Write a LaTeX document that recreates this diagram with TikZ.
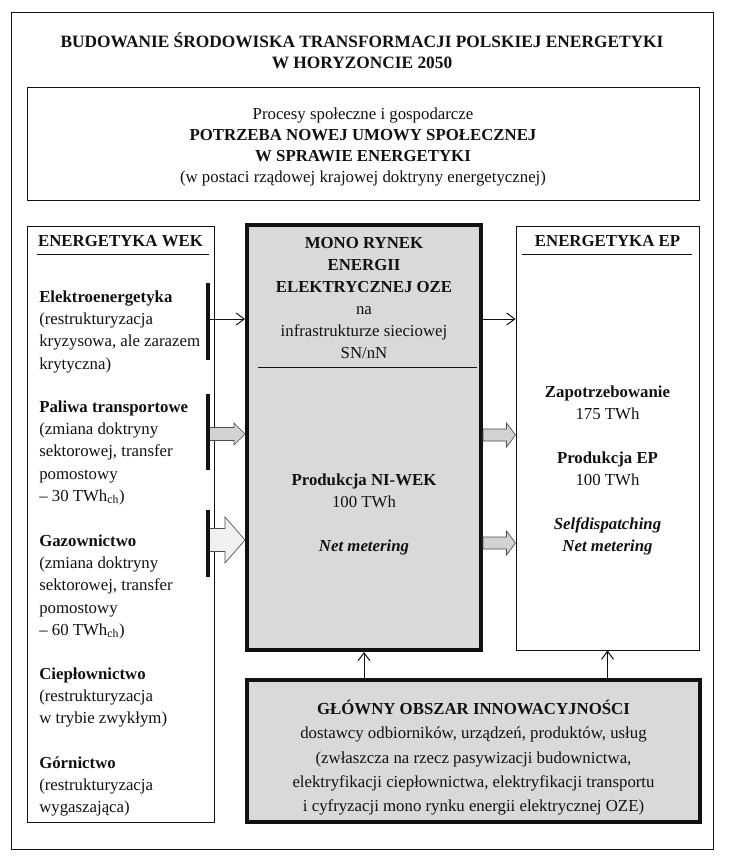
\documentclass[tikz,border=0pt]{standalone}
\usepackage{fontspec}
\setmainfont{Liberation Serif}
\usetikzlibrary{arrows.meta,positioning,calc,fit}
\definecolor{Ink}{HTML}{111111}
\definecolor{Shade}{HTML}{D9D9D9}
\definecolor{ArrowGrey}{HTML}{D2D2D2}
\definecolor{ArrowPale}{HTML}{F0F0F0}
\newcommand{\fatarrow}[6]{
  \draw[draw=Ink!75, fill=#6, line width=0.5pt]
    ($(#1)+(0,-#3)$) -- ($(#2)+(-#5,-#3)$) -- ($(#2)+(-#5,-#4)$) -- (#2)
    -- ($(#2)+(-#5,#4)$) -- ($(#2)+(-#5,#3)$) -- ($(#1)+(0,#3)$) -- cycle;
}
\tikzset{
  frame/.style={draw=Ink, line width=0.75pt, inner sep=0pt},
  heavybox/.style={draw=Ink, fill=Shade, line width=3pt, inner sep=0pt},
  txt/.style={inner sep=0pt, align=center, anchor=north, text=Ink,
    execute at begin node=\strut},
  sidetxt/.style={txt, align=left, anchor=north west},
  feed/.style={draw=Ink, line width=0.75pt, -{Straight Barb[length=6pt, width=9pt]}},
  bar/.style={draw=Ink, line width=3pt}
}

\begin{document}
\begin{tikzpicture}[x=0.75pt, y=-0.75pt]
        \fill[white] (0,0) rectangle (745,867);
        % frame and headline
        \node[frame, fit={(11,13) (713,849)}] (outer) {};
        \node[txt, font=\fontsize{13}{15.75}\selectfont\bfseries] (title) at (362,32)
          {BUDOWANIE ŚRODOWISKA TRANSFORMACJI POLSKIEJ ENERGETYKI\\W HORYZONCIE 2050};
        \node[frame, fit={(27,88) (699,200)}] (umowa) {};
        \node[txt, font=\fontsize{12.6}{15.75}\selectfont] (umowatxt) at (363,108)
          {Procesy społeczne i gospodarcze\\
           \textbf{POTRZEBA NOWEJ UMOWY SPOŁECZNEJ}\\
           \textbf{W SPRAWIE ENERGETYKI}\\
           (w postaci rządowej krajowej doktryny energetycznej)};

        % boxes
        \node[frame, fit={(27,226) (214,822)}] (wek) {};
        \node[heavybox, fit={(247,225) (481,650)}] (mid) {};
        \node[frame, fit={(516,226) (699,650)}] (ep) {};
        \node[heavybox, fit={(247,680) (700,822)}] (inno) {};

        % left column
        \node[txt, font=\fontsize{12.6}{16.65}\selectfont\bfseries] (wekhead) at (120.5,230.5) {ENERGETYKA WEK};
        \draw[Ink, line width=0.75pt] (37,254) -- (209,254);
        \begin{scope}[font=\fontsize{12.6}{16.65}\selectfont]
          \node[sidetxt] (elek) at (39,290.5) {\textbf{Elektroenergetyka}\\(restrukturyzacja\\kryzysowa, ale zarazem\\krytyczna)};
          \node[sidetxt] (paliwa) at (39,400.5) {\textbf{Paliwa transportowe}\\(zmiana doktryny\\sektorowej, transfer\\pomostowy\\– 30 TWh\textsubscript{ch})};
          \node[sidetxt] (gaz) at (39,534.5) {\textbf{Gazownictwo}\\(zmiana doktryny\\sektorowej, transfer\\pomostowy\\– 60 TWh\textsubscript{ch})};
          \node[sidetxt] (ciep) at (39,667.5) {\textbf{Ciepłownictwo}\\(restrukturyzacja\\w trybie zwykłym)};
          \node[sidetxt] (gorn) at (39,756.5) {\textbf{Górnictwo}\\(restrukturyzacja\\wygaszająca)};
        \end{scope}

        % middle
        \begin{scope}[font=\fontsize{12.6}{16.5}\selectfont]
          \node[txt] (rynek) at (364,237.6) {\textbf{MONO RYNEK}\\\textbf{ENERGII}\\\textbf{ELEKTRYCZNEJ OZE}\\na\\infrastrukturze sieciowej\\SN/nN};
          \node[txt] (niwek) at (364,473.6) {\textbf{Produkcja NI-WEK}\\100 TWh\\[16.5pt]\textbf{\textit{Net metering}}};
        \end{scope}
        \draw[Ink, line width=0.75pt] (258,367) -- (477,367);

        % right column
        \node[txt, font=\fontsize{12.6}{16.5}\selectfont\bfseries] (ephead) at (607.5,230.5) {ENERGETYKA EP};
        \draw[Ink, line width=0.75pt] (522,254) -- (692,254);
        \node[txt, font=\fontsize{12.6}{16.5}\selectfont] (eptxt) at (607.5,385.1)
          {\textbf{Zapotrzebowanie}\\175 TWh\\[16.5pt]\textbf{Produkcja EP}\\100 TWh\\[16.5pt]\textbf{\textit{Selfdispatching}}\\\textbf{\textit{Net metering}}};

        % innovation
        \node[txt, font=\fontsize{12.6}{18.2}\selectfont] (innotxt) at (473.5,700)
          {\textbf{GŁÓWNY OBSZAR INNOWACYJNOŚCI}\\
           dostawcy odbiorników, urządzeń, produktów, usług\\
           (zwłaszcza na rzecz pasywizacji budownictwa,\\
           elektryfikacji ciepłownictwa, elektryfikacji transportu\\
           i cyfryzacji mono rynku energii elektrycznej OZE)};

        % flows
        \coordinate (w1) at (208,319);
        \coordinate (w2) at (208,434);
        \coordinate (w3) at (208,540);
        \coordinate (e1) at (481,319);
        \coordinate (e2) at (481,435);
        \coordinate (e3) at (481,543);
        \draw[feed] (w1) -- (w1 -| mid.west);
        \draw[feed] (mid.east |- e1) -- (e1 -| ep.west);
        \fatarrow{w2}{w2 -| mid.west}{6.5}{11}{11}{ArrowGrey}
        \fatarrow{w3}{w3 -| mid.west}{11.5}{23}{20}{ArrowPale}
        \fatarrow{mid.east |- e2}{e2 -| ep.west}{6}{12}{9}{ArrowGrey}
        \fatarrow{mid.east |- e3}{e3 -| ep.west}{6}{12}{9}{ArrowGrey}
        \draw[bar] (208,283) -- (208,360);
        \draw[bar] (208,394) -- (208,470);
        \draw[bar] (208,510) -- (208,577);
        \draw[feed] (inno.north -| mid.south) -- (mid.south);
        \draw[feed] (inno.north -| ep.south) -- (ep.south);
      \end{tikzpicture}
\end{document}
